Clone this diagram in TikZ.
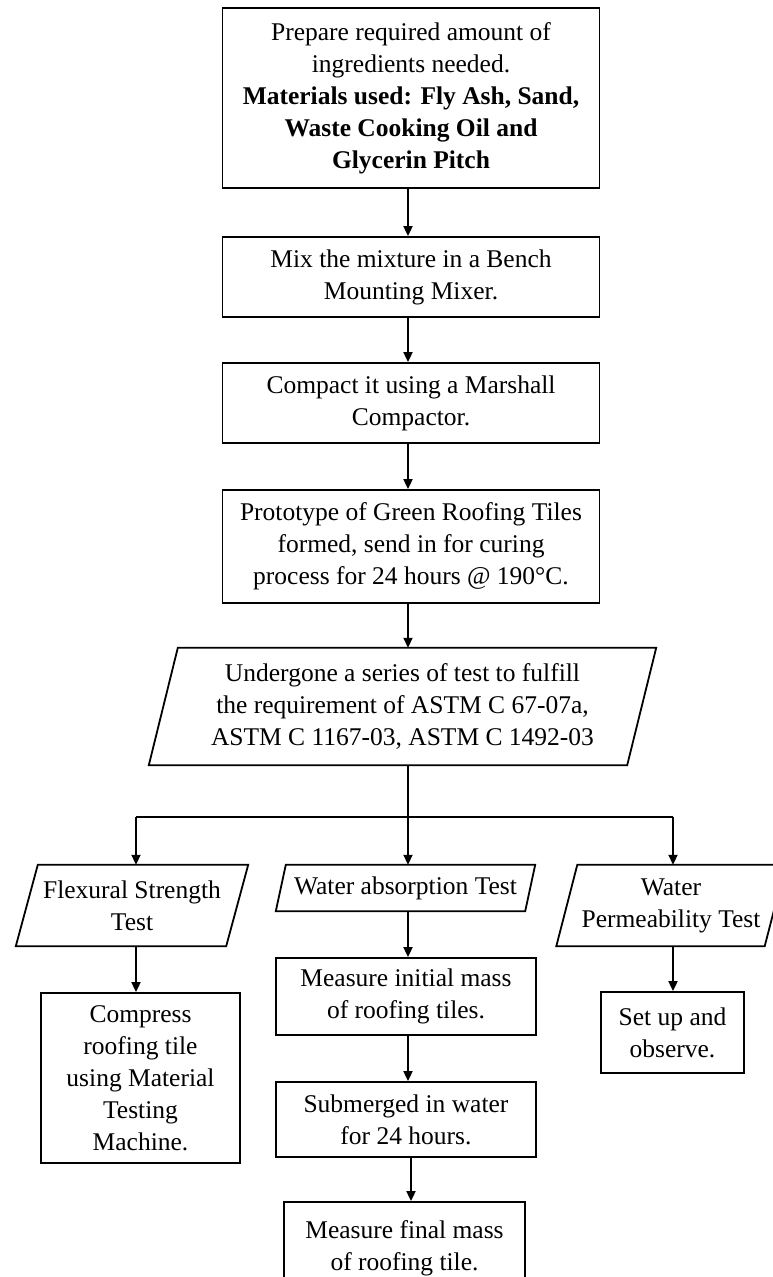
\documentclass[tikz,border=0pt]{standalone}
\usepackage{fontspec}
\setmainfont{Liberation Serif}
\usetikzlibrary{arrows.meta,calc}
\begin{document}
\begin{tikzpicture}[x=1pt,y=-1pt,
  line/.style={line width=1.8pt},
  box/.style={draw,line width=1.8pt,inner sep=0pt,align=center,font=\fontsize{25.5pt}{32pt}\selectfont},
  txt/.style={inner sep=0pt,align=center,font=\fontsize{25.5pt}{32pt}\selectfont},
  arr/.style={line width=1.8pt,-{Triangle[length=10pt,width=9pt]}}]
\useasboundingbox (0,0) rectangle (773,1277);

% main chain
\node[box,minimum width=377pt,minimum height=180pt] (b1) at (411,98)
  {Prepare required amount of\\ingredients needed.\\\textbf{Materials used: Fly Ash, Sand,}\\\textbf{Waste Cooking Oil and}\\\textbf{Glycerin Pitch}};
\node[box,minimum width=377pt,minimum height=80pt] (b2) at (411,277)
  {Mix the mixture in a Bench\\Mounting Mixer.};
\node[box,minimum width=377pt,minimum height=80pt] (b3) at (411,403)
  {Compact it using a Marshall\\Compactor.};
\node[box,minimum width=377pt,minimum height=113pt] (b4) at (411,546.5)
  {Prototype of Green Roofing Tiles\\formed, send in for curing\\process for 24 hours @ 190°C.};

% big parallelogram
\node[txt,minimum width=478pt,minimum height=117pt] (p) at (402.5,706.5)
  {Undergone a series of test to fulfill\\the requirement of ASTM C 67-07a,\\ASTM C 1167-03, ASTM C 1492-03};
\draw[line] ([xshift=14.5pt]p.north west) -- ([xshift=14.5pt]p.north east)
  -- ([xshift=-14.5pt]p.south east) -- ([xshift=-14.5pt]p.south west) -- cycle;

% lower parallelograms
\node[txt,minimum width=210pt,minimum height=81pt] (t1) at (132,905.5)
  {Flexural Strength\\Test};
\draw[line] ([xshift=11pt]t1.north west) -- ([xshift=11pt]t1.north east)
  -- ([xshift=-11pt]t1.south east) -- ([xshift=-11pt]t1.south west) -- cycle;
\node[txt,minimum width=249pt,minimum height=46pt] (t2) at (405.5,888)
  {Water absorption Test};
\draw[line] ([xshift=5pt]t2.north west) -- ([xshift=5pt]t2.north east)
  -- ([xshift=-5pt]t2.south east) -- ([xshift=-5pt]t2.south west) -- cycle;
\node[txt,minimum width=208pt,minimum height=81pt] (t3) at (671,905.5)
  {Water\\Permeability Test};
\draw[line] ([xshift=10.5pt]t3.north west) -- ([xshift=10.5pt]t3.north east)
  -- ([xshift=-10.5pt]t3.south east) -- ([xshift=-10.5pt]t3.south west) -- cycle;

% lower boxes
\node[box,minimum width=199pt,minimum height=170pt] (c1) at (140.5,1078)
  {Compress\\roofing tile\\using Material\\Testing\\Machine.};
\node[box,minimum width=260pt,minimum height=77pt] (m1) at (406,996.5)
  {Measure initial mass\\of roofing tiles.};
\node[box,minimum width=260pt,minimum height=75pt] (m2) at (406,1119.5)
  {Submerged in water\\for 24 hours.};
\node[box,minimum width=241pt,minimum height=88pt,text depth=0pt] (m3) at (404.5,1246)
  {Measure final mass\\of roofing tile.};
\node[box,minimum width=143pt,minimum height=81pt] (r1) at (672.5,1032.5)
  {Set up and\\observe.};

% junction
\coordinate (j) at (408,817);
\coordinate (jl) at (136,817);
\coordinate (jr) at (673,817);

\draw[arr] (b1.south -| j) -- (b2.north -| j);
\draw[arr] (b2.south -| j) -- (b3.north -| j);
\draw[arr] (b3.south -| j) -- (b4.north -| j);
\draw[arr] (b4.south -| j) -- (p.north -| j);
\draw[line] (j |- p.south) -- (j);
\draw[line] (jl) -- (jr);
\draw[arr] (jl) -- (jl |- t1.north);
\draw[arr] (j) -- (j |- t2.north);
\draw[arr] (jr) -- (jr |- t3.north);
\draw[arr] (jl |- t1.south) -- (jl |- c1.north);
\draw[arr] (j |- t2.south) -- (j |- m1.north);
\draw[arr] (j |- m1.south) -- (j |- m2.north);
\draw[arr] ([xshift=3pt]j |- m2.south) -- ([xshift=3pt]j |- m3.north);
\draw[arr] (jr |- t3.south) -- (jr |- r1.north);
\end{tikzpicture}
\end{document}
